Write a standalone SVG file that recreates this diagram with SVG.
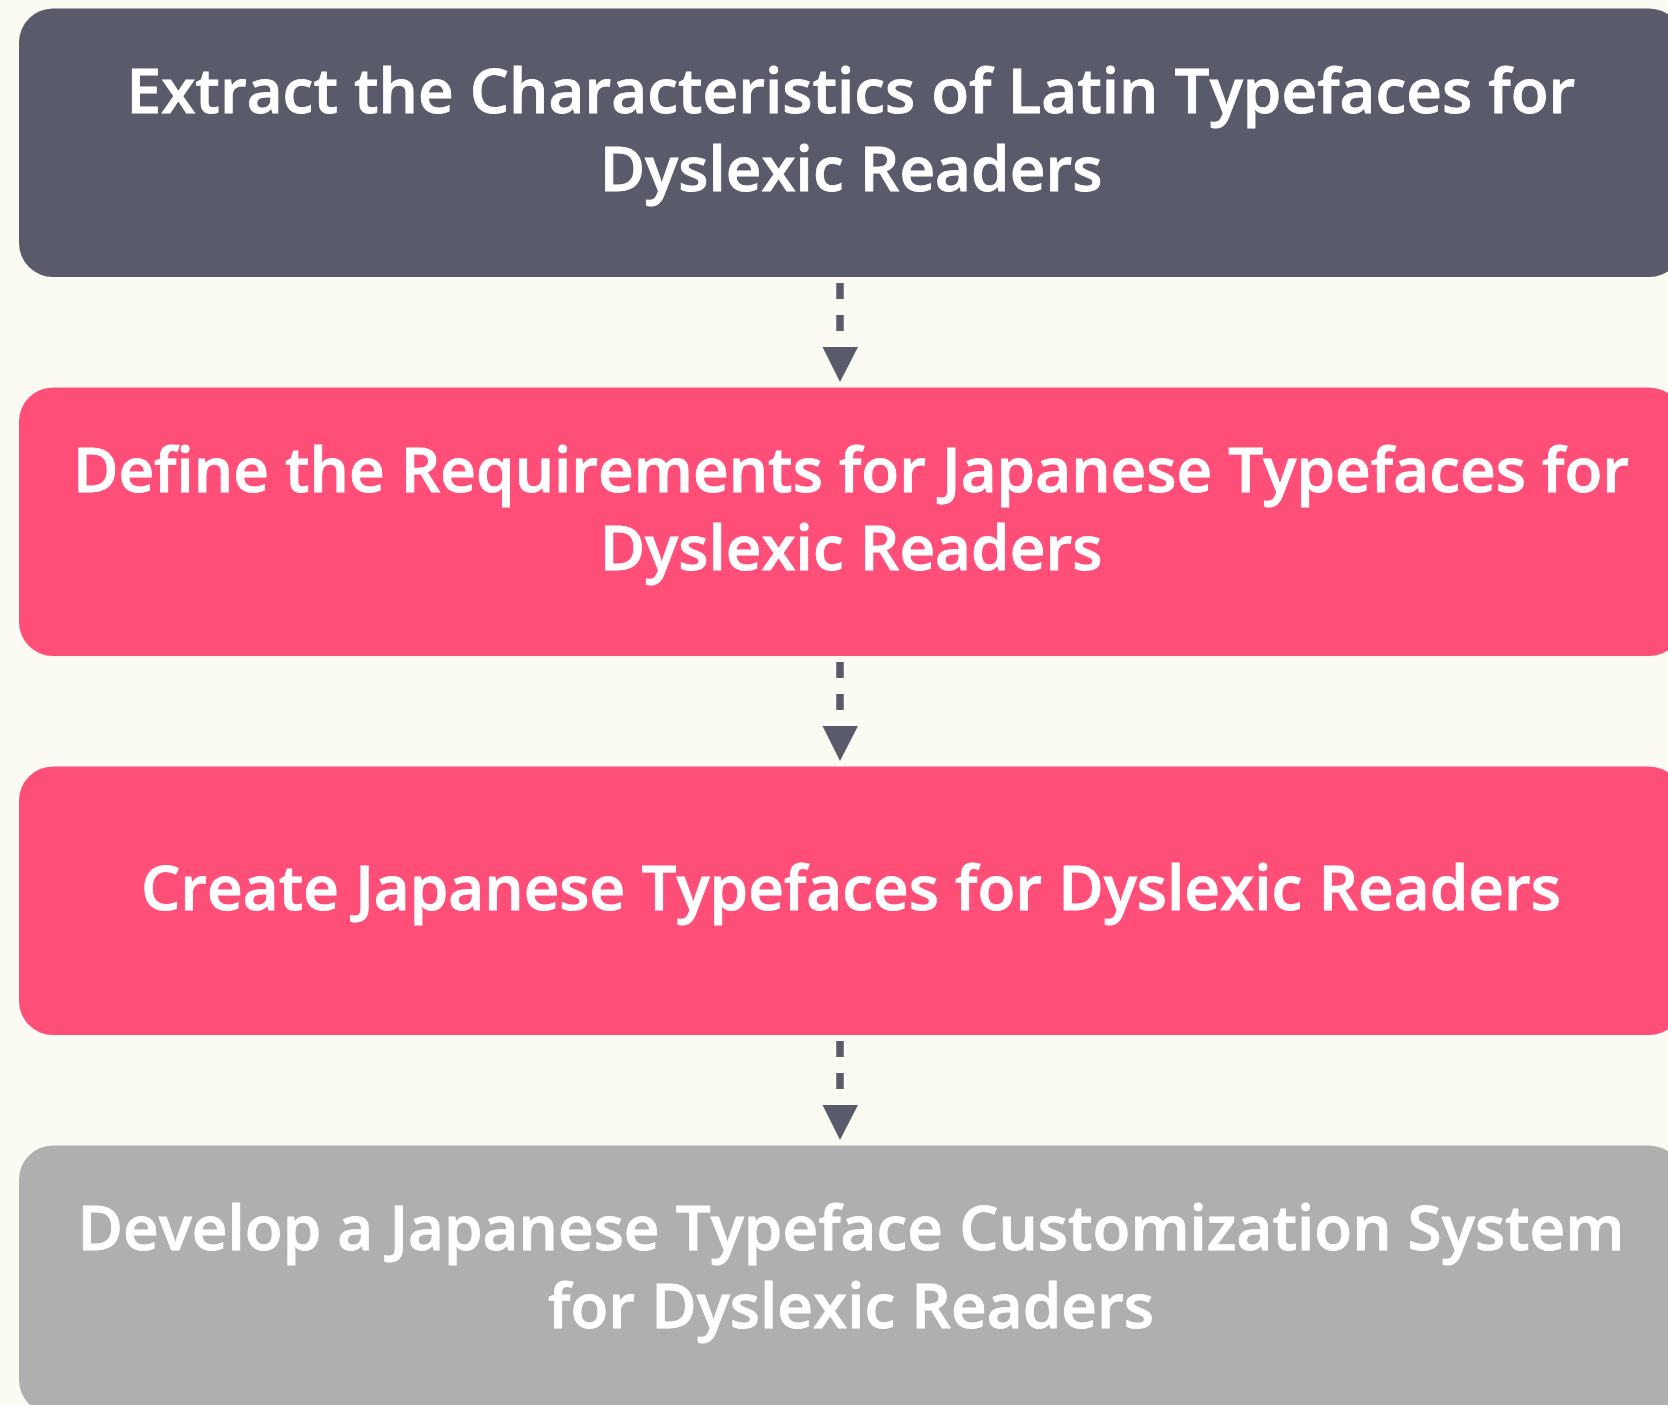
<svg xmlns="http://www.w3.org/2000/svg" width="1668" height="1405" viewBox="0 0 1668 1405">
<defs>
<style>
.lbl{font-family:"Open Sans","Noto Sans","DejaVu Sans",sans-serif;font-weight:600;font-size:62px;fill:#ffffff;stroke:#ffffff;stroke-width:0.8;text-anchor:middle}
.dash{stroke:#5a5b6a;stroke-width:7.5;stroke-dasharray:16 16;fill:none}
.head{fill:#5a5b6a}
</style>
</defs>
<rect width="1668" height="1405" fill="#fbfbf3"/>
<g id="connectors">
<path class="dash" d="M840 283V347"/>
<polygon class="head" points="822.5,347 858,347 840,382"/>
<path class="dash" d="M840 662V726"/>
<polygon class="head" points="822.5,726 858,726 840,761"/>
<path class="dash" d="M840 1041V1105"/>
<polygon class="head" points="822.5,1105 858,1105 840,1140"/>
</g>
<g id="node1">
<rect x="19" y="8.5" width="1664" height="268.5" rx="34" fill="#5a5b6a"/>
<text class="lbl" x="851" y="112.7">Extract the Characteristics of Latin Typefaces for</text>
<text class="lbl" x="851" y="190.7">Dyslexic Readers</text>
</g>
<g id="node2">
<rect x="19" y="387.5" width="1664" height="268.5" rx="34" fill="#ff4f78"/>
<text class="lbl" x="851" y="491.7">Define the Requirements for Japanese Typefaces for</text>
<text class="lbl" x="851" y="569.7">Dyslexic Readers</text>
</g>
<g id="node3">
<rect x="19" y="766.5" width="1664" height="268.5" rx="34" fill="#ff4f78"/>
<text class="lbl" x="851" y="910">Create Japanese Typefaces for Dyslexic Readers</text>
</g>
<g id="node4">
<rect x="19" y="1145.5" width="1664" height="268.5" rx="34" fill="#afafaf"/>
<text class="lbl" x="851" y="1249.7">Develop a Japanese Typeface Customization System</text>
<text class="lbl" x="851" y="1327.7">for Dyslexic Readers</text>
</g>
</svg>
